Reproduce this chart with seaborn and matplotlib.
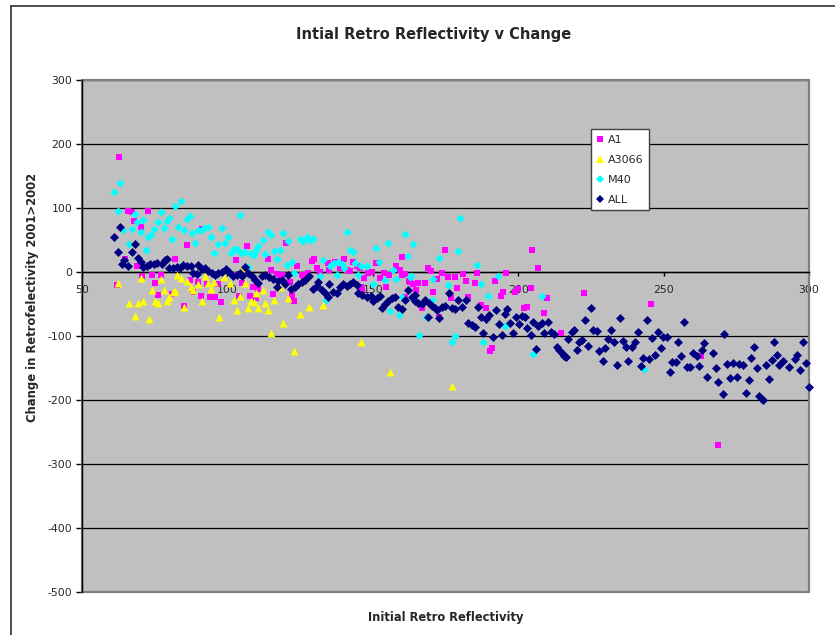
import matplotlib
matplotlib.use("Agg")
import matplotlib.pyplot as plt
from matplotlib.lines import Line2D
from matplotlib.patches import Rectangle
import pandas as pd
import seaborn as sns

# ---- data -------------------------------------------------------------
a1_x = [62.7, 65.9, 67.1, 72.8, 67.9, 70.2, 86, 64.8, 69, 81.9, 61.9, 70.7, 74, 77, 75, 76, 81, 85,
        88, 91, 94, 95.7, 92.9, 96.9, 97.8, 90, 103, 106.8, 104, 107.8, 108.9, 101.8, 87, 91.4, 105,
        114, 114.9, 117, 118.7, 120.2, 109.1, 110.6, 110, 115.8, 122.1, 122.9, 121.5, 123.8, 125.5,
        126.3, 127.8, 129, 129.8, 130.9, 131.8, 134.7, 135, 137, 138.7, 140.1, 141, 142.2, 143.1,
        144.5, 145.6, 147.1, 148.5, 145.8, 146.2, 149.6, 151.1, 152.5, 154.5, 154, 155.7, 158, 160,
        159.4, 162.8, 163.9, 164.9, 161.1, 161.1, 159.9, 162.6, 165.6, 168, 168.9, 170, 172, 173.7,
        174.8, 176, 178.3, 180.9, 182.1, 170.8, 167, 172.9, 176.9, 179, 182.8, 185.1, 186, 187.1,
        188.9, 190.2, 191.1, 192, 194, 194.9, 195.8, 198.9, 200, 202, 202.9, 204.3, 204.7, 206.9,
        208.9, 210, 214.8, 222.7, 245.7, 262.7, 268.6]
a1_y = [179, 96, 93, 96, 80, 70, 42, 21, 10, 20, -21, -7, -5, -5, -17, -36, -34, -53,
        -31, -37, -39, -39, -18, -18, -47, -15, 18, 41, -37, -38, -23, -5, -12, 67, -17,
        20, 3, -3, -4, 46, -24, -26, -41, -35, -36, -45, -15, 9, -5,
        -12, -1, 17, 21, 7, 0, 14, 3, 16, 7, 20, 3, 2, 15,
        9, 6, -10, -2, -23, -28, 0, 14, -10, -24, -2, -4, 9, 23,
        3, -15, -18, -28, -39, -3, -5, -14, -17, -17, 6, 2, -11, -2,
        34, -8, -8, -3, -14, -31, -57, -70, -41, -25, -39, -17, -2, -52,
        -57, -124, -118, -14, -37, -31, -2, -32, -27, -57, -55, -25, 34, 7,
        -64, -40, -95, -33, -50, -132, -270]

a3066_x = [62.3, 66, 68.2, 69.1, 70.3, 71.1, 73, 74, 75.1, 76.2, 77.2, 78.2, 79.3, 80, 81.2, 82,
           82.8, 84, 85.2, 86.2, 87.5, 88.3, 90, 91.2, 92.3, 93.2, 94.4, 95.5, 97.1, 98.8, 100.9,
           102.3, 103.4, 104.3, 105.1, 106, 107, 108, 109.1, 110, 110.6, 112.1, 112.9, 114.1, 115,
           116.1, 118.1, 119.2, 120.9, 122.9, 125, 128.2, 133, 145.8, 155.9, 177.1]
a3066_y = [-17, -49, -68, -49, -10, -46, -74, -28, -46, -48, -11, -28, -46, -39, -31, -29,
           -5, -10, -54, -14, -23, -28, -18, -45, -7, -17, -27, -15, -71, -8, -17,
           -43, -59, -37, 4, -17, -57, -46, -47, -33, -57, -28, -49, -59, -95,
           -43, -24, -79, -41, -124, -66, -55, -52, -109, -157, -178]

m40_x = [61.1, 63.1, 62.3, 64, 68.2, 69, 70.9, 67.2, 70.2, 66.2, 71.9, 72.8, 73.6, 74.8, 76, 77.2,
         78.2, 79.3, 80, 81, 82, 84, 82.9, 85.2, 86, 87.1, 87.9, 88.9, 90, 91.2, 92.1, 93.2, 94.3,
         95.5, 96.9, 98, 99.2, 100.2, 101.1, 102.4, 103.2, 104.3, 104.8, 106, 108, 109.1, 110.6,
         107, 109.8, 112.1, 112.9, 114.1, 114.9, 116.1, 117.2, 118.1, 119.2, 121, 120.4, 122.1,
         123, 125, 126.1, 127.3, 128.4, 129.3, 131.8, 133, 135.3, 136.7, 138.2, 139.3, 140.1,
         133.9, 137.6, 141, 142.2, 143.3, 143.9, 145, 146, 147.9, 151.1, 152.2, 155.1, 154.2,
         156.8, 158, 150.2, 155.9, 159.1, 160.2, 161.1, 162.2, 163, 163.9, 166, 180, 172.9, 179.2,
         186, 187.2, 193.2, 189.7, 208.1, 162.8, 170.8, 176, 170.2, 168.3, 178.3, 177.1, 188,
         195.4, 205, 243.3]
m40_y = [125, 139, 95, 65, 91, 78, 82, 67, 62, 44, 34, 54, 58, 67, 78, 93,
         68, 80, 85, 52, 103, 111, 70, 66, 83, 87, 61, 46, 65, 66, 69, 71, 55,
         30, 43, 69, 46, 55, 29, 36, 36, 89, 29, 31, 28, 27, 40,
         8, 34, 50, 28, 63, 58, 33, 21, 34, 61, 49, 11, 15,
         -1, 51, 48, 55, 50, 51, -7, 18, 9, 14, 16, 13, 7,
         -44, -5, 63, 34, 32, 14, -5, 9, 9, 37, 16, 45, -12,
         3, -11, -18, -61, -67, -39, 60, 25, -7, 43, -98, 85, 22, 33,
         11, -19, -7, -38, -38, -8, -11, -20, -44, -71, -100, -109, -109,
         -84, -128, -152]

all_x = [61.1, 63, 62.3, 63.8, 64.6, 65.9, 67.1, 68.2, 69.1, 70.3, 71.1, 72.2, 73.4, 74.8, 75.9,
         77.4, 78.5, 79.3, 80, 81.4, 82.6, 83.7, 84.8, 86, 87.5, 90, 88.3, 89.4, 91.2, 92.3, 93.4,
         94.6, 95.7, 96.9, 98, 99.4, 100.5, 102, 103.2, 104.3, 106, 107.2, 108.3, 109.5, 110.6,
         104.9, 111.8, 112.9, 114.4, 115.8, 117.5, 118.7, 117.2, 119.8, 121, 121.8, 123.2, 124.4,
         125.5, 126.7, 128.2, 129.3, 130.7, 131, 132.4, 133.6, 134.7, 135, 136.4, 137.6, 138.7,
         139.9, 141, 142.2, 143.3, 144.5, 145, 146.2, 147.9, 149.3, 150.2, 151.3, 152.5, 153.1,
         154.2, 155.3, 156.5, 157.6, 158.8, 159.9, 161.1, 162.2, 163.4, 164.5, 165.6, 164.5,
         166.8, 167.9, 169.4, 170.2, 171.4, 172.2, 173.7, 174.8, 169.1, 172.9, 176.3, 177.1,
         178.3, 179.4, 180.6, 182, 182.8, 184, 185.1, 186.3, 187.2, 188, 188.9, 190.1, 191.3,
         192.5, 193.3, 194.4, 195.4, 196.2, 197.1, 198.3, 199.2, 200.4, 201.2, 202.3, 203.1,
         204.3, 205, 206.1, 206.9, 208.1, 209, 210.1, 211.2, 212.3, 213.2, 214.1, 215, 215.7,
         217.2, 218.4, 219.2, 220.3, 221, 216.4, 222, 223, 224.1, 225, 225.8, 227, 227.9, 229.3,
         229.9, 231, 231.9, 233, 234.1, 235, 236.1, 237.1, 237.9, 239, 240.2, 241.1, 242.1, 243,
         244.2, 245.1, 245.9, 247, 248, 249.1, 249.9, 251, 252.2, 253, 254.2, 254.8, 256, 257,
         257.9, 259.1, 260.2, 261.4, 262.3, 263.1, 263.9, 265, 267.1, 268, 268.8, 270.8, 270.3,
         271.9, 274, 272.8, 275.1, 276, 277.2, 278.2, 279.3, 280, 281, 282, 282.9, 283.7, 284.3,
         285.1, 286.1, 287.2, 288, 288.9, 289.8, 290.9, 293, 295.1, 295.8, 296.9, 297.9, 298.9,
         300]
all_y = [54, 71, 32, 13, 18, 9, 32, 43, 22, 16, 8, 10, 13, 13, 14,
         13, 18, 20, 7, 6, 8, 6, 11, 10, 10, 11, -1, -3, 5, 7, 2,
         -2, -5, -1, 0, 4, 0, -7, -5, -2, 8, -2, -7, -12, -17,
         -7, -7, -5, -8, -11, -14, -12, -23, -18, -5, -26, -24, -18,
         -15, -12, -7, -27, -22, -15, -28, -33, -39, -19, -31, -33, -23,
         -18, -22, -18, -15, -20, -33, -36, -39, -37, -46, -41, -37, -56,
         -50, -45, -41, -39, -55, -58, -43, -28, -39, -36, -48, -45,
         -50, -44, -48, -53, -57, -59, -55, -53, -71, -72, -33, -57,
         -58, -44, -55, -43, -79, -83, -86, -55, -70, -96, -74, -67, -102,
         -59, -81, -98, -65, -58, -80, -96, -71, -81, -69, -71, -88,
         -98, -78, -121, -85, -80, -95, -78, -93, -97, -117, -122, -127, -132,
         -104, -93, -91, -122, -110, -133, -106, -75, -115, -57, -91, -92, -123, -139,
         -118, -104, -90, -110, -145, -72, -108, -117, -139, -117, -109, -93, -147, -134,
         -75, -136, -103, -129, -94, -118, -101, -101, -156, -140, -140, -110, -131, -78,
         -148, -148, -127, -132, -147, -122, -111, -164, -127, -150, -172, -97, -190,
         -143, -142, -165, -164, -144, -146, -189, -169, -134, -117, -150, -193, -198, -200,
         -145, -167, -138, -110, -129, -146, -139, -148, -136, -129, -153, -109, -142,
         -180]

series_names = ["A1", "A3066", "M40", "ALL"]
series_colors = ["#FF00FF", "#FFFF00", "#00FFFF", "#000080"]
series_markers = ["s", "^", "D", "D"]
series_sizes = [20, 32, 17, 21]

y_ticks = [-500, -400, -300, -200, -100, 0, 100, 200, 300]
x_ticks = [50, 100, 150, 200, 250, 300]

frames = [
    pd.DataFrame({"initial": a1_x, "change": a1_y, "series": "A1"}),
    pd.DataFrame({"initial": a3066_x, "change": a3066_y, "series": "A3066"}),
    pd.DataFrame({"initial": m40_x, "change": m40_y, "series": "M40"}),
    pd.DataFrame({"initial": all_x, "change": all_y, "series": "ALL"}),
]
df = pd.concat(frames, ignore_index=True)

# ---- figure -----------------------------------------------------------
sns.set_style("white")
plt.rcParams["font.family"] = ["DejaVu Sans"]
plt.rcParams["axes.unicode_minus"] = False

W, H = 835, 635
fig = plt.figure(figsize=(W / 100, H / 100), dpi=100)
fig.patch.set_facecolor("white")
ax = fig.add_axes([82 / W, 43 / H, 727 / W, 512 / H])
ax.set_facecolor("#C0C0C0")

for i, (name, col, mk, sz) in enumerate(zip(series_names, series_colors, series_markers, series_sizes)):
    sub = df[df["series"] == name]
    sns.scatterplot(data=sub, x="initial", y="change", ax=ax, color=col, marker=mk,
                    s=sz, linewidth=0, zorder=5 + i, clip_on=False, legend=False)

ax.set_xlim(50, 300)
ax.set_ylim(-500, 300)
ax.set_xticks(x_ticks)
ax.set_yticks(y_ticks)
ax.set_xlabel("")
ax.set_ylabel("")

# horizontal gridlines
ax.yaxis.grid(True, color="black", linewidth=0.9)
ax.xaxis.grid(False)
ax.set_axisbelow(True)

# plot-area border
for s in ["top", "right"]:
    ax.spines[s].set_visible(False)
ax.add_patch(Rectangle((0, 0), 1, 1, transform=ax.transAxes, fill=False,
                       edgecolor="#808080", linewidth=1.6, zorder=1, clip_on=False))
ax.spines["left"].set_color("black")
ax.spines["left"].set_linewidth(1.0)
ax.spines["left"].set_zorder(3)
ax.spines["bottom"].set_position(("data", 0))
ax.spines["bottom"].set_color("black")
ax.spines["bottom"].set_linewidth(1.0)

ax.tick_params(axis="y", direction="out", length=4, width=1, color="black",
               labelsize=7.8, pad=3, left=True)
ax.tick_params(axis="x", direction="out", length=3, width=1, color="black",
               labelsize=7.8, pad=6.5, bottom=True)

# legend
handles = [Line2D([0], [0], marker=m, color="none", markerfacecolor=c, markeredgewidth=0,
                  markersize=4.5 if m != "^" else 5.5, label=n)
           for n, c, m in zip(series_names, series_colors, series_markers)]
leg = ax.legend(handles=handles, loc="upper left", bbox_to_anchor=(591 / W, 1 - 129 / H),
                bbox_transform=fig.transFigure, borderaxespad=0, fancybox=False,
                framealpha=1, edgecolor="#404040", facecolor="white", fontsize=8,
                handlelength=0.7, handletextpad=0.35, labelspacing=0.9, borderpad=0.5)
leg.get_frame().set_linewidth(1.0)
leg.set_zorder(20)

# titles
fig.text(434 / W, 1 - 34 / H, "Intial Retro Reflectivity v Change", ha="center", va="center",
         fontsize=10.5, fontweight="bold")
fig.text(446 / W, 1 - 617 / H, "Initial Retro Reflectivity", ha="center", va="center",
         fontsize=8.3, fontweight="bold")
fig.text(33 / W, 1 - 297 / H, "Change in Retrofelectivity 2001>2002", ha="center", va="center",
         rotation=90, fontsize=8.4, fontweight="bold")

# chart frame
fig.add_artist(Line2D([11 / W, 11 / W], [0, 1 - 6 / H], transform=fig.transFigure,
                      color="#303030", linewidth=1.2))
fig.add_artist(Line2D([11 / W, 1], [1 - 6 / H, 1 - 6 / H], transform=fig.transFigure,
                      color="#303030", linewidth=1.2))

fig.savefig("out.png", dpi=100, facecolor="white")
